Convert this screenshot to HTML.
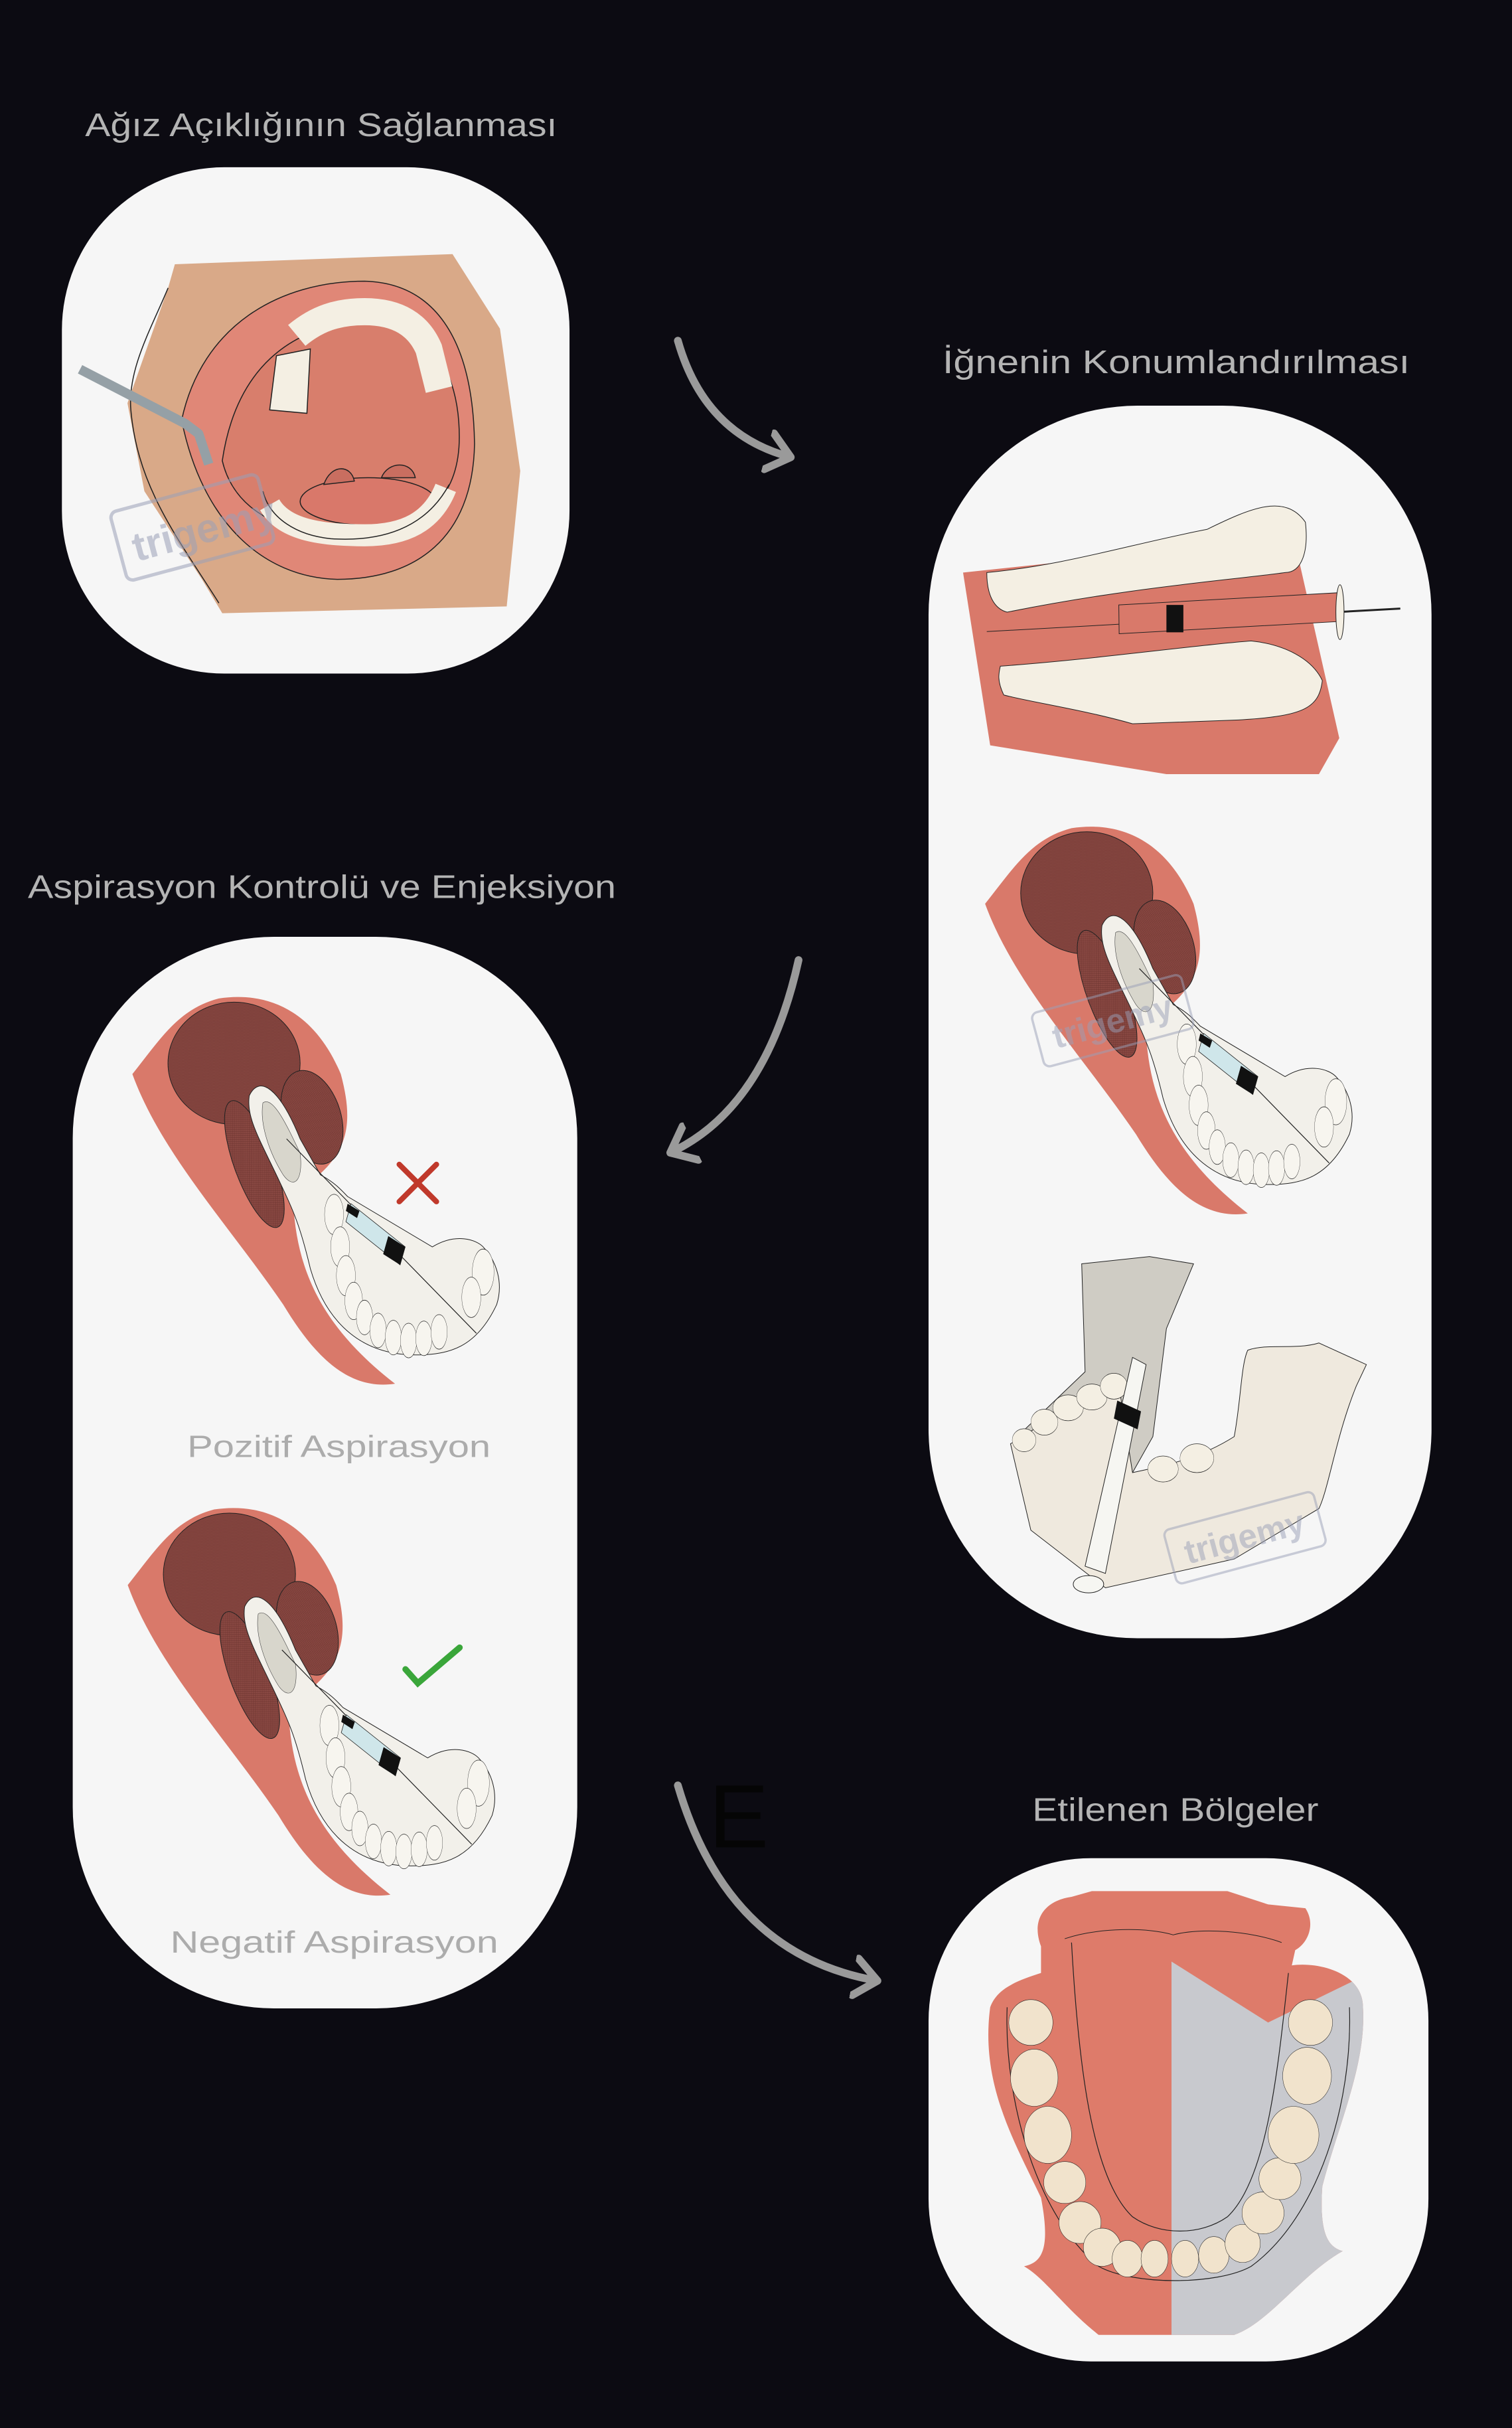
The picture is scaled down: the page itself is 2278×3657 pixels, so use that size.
<!DOCTYPE html>
<html><head><meta charset="utf-8"><style>
html,body{margin:0;padding:0;background:#0c0b12;}
svg{display:block}
</style></head><body>
<svg width="2278" height="3657" viewBox="0 0 977 1568" preserveAspectRatio="none" xmlns="http://www.w3.org/2000/svg">
<defs>
<marker id="ah" markerWidth="6" markerHeight="6" refX="3" refY="3" orient="auto" markerUnits="strokeWidth">
<path d="M0.3,0.6 L3.2,3 L0.3,5.4" fill="none" stroke="#9a9a9a" stroke-width="1" stroke-linecap="round" stroke-linejoin="round"/>
</marker>
<pattern id="hatch" width="4" height="4" patternUnits="userSpaceOnUse">
<rect width="4" height="4" fill="#8d4b45"/><path d="M0,0L4,4M4,0L0,4" stroke="#6e3530" stroke-width="0.6"/>
</pattern>
<g id="asp">
 <path d="M165,610 C250,560 300,520 420,505 C560,495 700,520 780,610 C820,680 800,720 690,760 L640,790 C650,880 720,960 940,1040 C800,1050 700,1000 610,930 C450,820 250,720 165,610Z" fill="#d9796a"/>
 <ellipse cx="465" cy="595" rx="195" ry="85" fill="url(#hatch)" stroke="#222" stroke-width="1" vector-effect="non-scaling-stroke"/>
 <ellipse cx="695" cy="670" rx="95" ry="60" transform="rotate(20 695 670)" fill="url(#hatch)" stroke="#222" stroke-width="1" vector-effect="non-scaling-stroke"/>
 <ellipse cx="525" cy="735" rx="115" ry="48" transform="rotate(45 525 735)" fill="url(#hatch)" stroke="#222" stroke-width="1" vector-effect="non-scaling-stroke"/>
 <path d="M510,640 C540,610 600,630 660,700 L720,750 C760,760 780,770 800,780 L1050,850 C1120,830 1180,840 1200,850 C1240,870 1260,900 1240,930 C1180,990 1100,1000 1000,1000 C850,1000 740,960 690,880 C660,820 640,800 600,760 C540,700 500,670 510,640Z" fill="#f2f0ea" stroke="#222" stroke-width="1" vector-effect="non-scaling-stroke"/>
 <path d="M550,650 C580,640 620,680 660,720 C670,760 640,770 610,750 C570,720 540,680 550,650Z" fill="#d8d6cc" stroke="#444" stroke-width="0.6" vector-effect="non-scaling-stroke"/>
 <g fill="#f7f5ef" stroke="#222" stroke-width="0.7" vector-effect="non-scaling-stroke">
  <circle cx="760" cy="805" r="28"/><circle cx="778" cy="850" r="28"/><circle cx="795" cy="890" r="28"/><circle cx="818" cy="925" r="26"/><circle cx="850" cy="948" r="24"/><circle cx="890" cy="966" r="24"/><circle cx="935" cy="976" r="24"/><circle cx="980" cy="980" r="24"/><circle cx="1025" cy="977" r="24"/><circle cx="1070" cy="968" r="24"/><circle cx="1200" cy="885" r="32"/><circle cx="1165" cy="920" r="28"/>
 </g>
 <line x1="620" y1="700" x2="1180" y2="970" stroke="#222" stroke-width="1.2" vector-effect="non-scaling-stroke"/>
 <path d="M810,790 L970,850 L955,875 L795,815Z" fill="#cfe6ea" stroke="#222" stroke-width="0.8" vector-effect="non-scaling-stroke"/>
 <path d="M920,835 L970,850 L955,875 L905,860Z" fill="#111"/>
 <path d="M800,790 L835,800 L828,810 L795,800Z" fill="#111"/>
</g>
</defs>

<!-- Titles -->
<g font-family="Liberation Sans, sans-serif" fill="#b4b4b4" font-size="21">
<text x="55" y="88" textLength="305" lengthAdjust="spacingAndGlyphs">Ağız Açıklığının Sağlanması</text>
<text x="609" y="241" textLength="302" lengthAdjust="spacingAndGlyphs">İğnenin Konumlandırılması</text>
<text x="18" y="580" textLength="380" lengthAdjust="spacingAndGlyphs">Aspirasyon Kontrolü ve Enjeksiyon</text>
<text x="667" y="1176" textLength="185" lengthAdjust="spacingAndGlyphs">Etilenen Bölgeler</text>
</g>
<text x="458" y="1193" font-family="Liberation Sans, sans-serif" font-size="58" fill="#050505">E</text>

<!-- Arrows -->
<g fill="none" stroke="#9a9a9a" stroke-width="5" stroke-linecap="round" marker-end="url(#ah)">
<path d="M438,220 Q455,280 510,295"/>
<path d="M516,620 Q495,715 434,744"/>
<path d="M438,1153 Q470,1262 566,1279"/>
</g>

<!-- Cards -->
<g fill="#f6f6f6">
<rect x="40" y="108" width="328" height="327" rx="105"/>
<rect x="600" y="262" width="325" height="796" rx="135"/>
<rect x="47" y="605" width="326" height="692" rx="130"/>
<rect x="600" y="1200" width="323" height="325" rx="105"/>
</g>

<!-- Card1 illustration -->
<g transform="translate(38.6,107.2) scale(0.2188)" stroke="#222" stroke-width="3">
 <path d="M320,360 L340,290 L1160,260 L1300,480 L1360,900 L1320,1300 L480,1320 L420,1220 L250,960 L200,700Z" fill="#d9a988" stroke="none"/>
 <path d="M320,360 C270,480 200,600 210,720 C230,950 350,1100 470,1290" fill="none"/>
 <path d="M360,750 C420,470 650,340 900,340 C1100,345 1220,500 1225,820 C1220,1100 1050,1220 820,1220 C600,1215 420,1050 360,750Z" fill="#e08777"/>
 <path d="M480,870 C520,600 680,470 900,460 C1090,460 1180,600 1180,800 C1180,960 1100,1060 900,1090 C700,1100 520,1040 480,870Z" fill="#d87e6c"/>
 <path d="M700,500 C760,450 820,430 900,430 C1000,430 1060,470 1090,540 L1120,660" fill="none" stroke="#f4efe3" stroke-width="80"/>
 <path d="M640,560 L740,540 L730,730 L620,720Z" fill="#f4efe3"/>
 <ellipse cx="910" cy="990" rx="200" ry="70" fill="#d9786a"/>
 <path d="M780,940 C800,880 860,880 870,930Z M950,920 C970,870 1040,870 1050,920Z" fill="#c96e60"/>
 <path d="M620,1000 C660,1070 760,1090 900,1090 C1020,1090 1100,1050 1140,950" fill="none" stroke="#f4efe3" stroke-width="65"/>
 <path d="M600,960 C620,1040 700,1090 800,1100 C950,1110 1080,1070 1150,940" fill="none"/>
 <polyline points="60,600 370,760 410,790 440,880" fill="none" stroke="#95a0a6" stroke-width="28" stroke-linejoin="round"/>
 <g transform="rotate(-15 400 1080)" opacity="0.55"><rect x="170" y="960" width="450" height="210" rx="20" fill="none" stroke="#9aa0b8" stroke-width="10"/>
 <text x="210" y="1120" font-family="Liberation Sans, sans-serif" font-weight="bold" font-size="120" fill="#9aa0b8" stroke="none">trigemy</text></g>
</g>

<!-- Card2 illustrations -->
<g transform="translate(600.4,300) scale(0.219,0.465)">
 <!-- top -->
 <path d="M100,150 L700,120 L1080,110 L1210,380 L1150,430 L700,430 L180,390Z" fill="#d9796a"/>
 <path d="M170,150 C400,140 600,110 820,90 C950,60 1050,40 1110,80 C1120,120 1100,150 1050,150 C900,160 600,170 230,205 C190,200 170,180 170,150Z" fill="#f4efe3" stroke="#222" stroke-width="1" vector-effect="non-scaling-stroke"/>
 <path d="M210,280 C500,270 800,250 950,245 C1050,250 1130,270 1160,300 C1150,340 1100,350 900,355 L600,360 C450,340 300,330 220,320 C200,300 205,290 210,280Z" fill="#f4efe3" stroke="#222" stroke-width="1" vector-effect="non-scaling-stroke"/>
 <line x1="170" y1="232" x2="1390" y2="200" stroke="#222" stroke-width="1" vector-effect="non-scaling-stroke"/>
 <rect x="560" y="195" width="650" height="40" fill="#d9796a" stroke="#222" stroke-width="1" vector-effect="non-scaling-stroke" transform="rotate(-1.5 560 215)"/>
 <rect x="700" y="195" width="50" height="38" fill="#111"/>
 <line x1="1200" y1="205" x2="1390" y2="200" stroke="#222" stroke-width="3" vector-effect="non-scaling-stroke"/>
 <ellipse cx="1212" cy="205" rx="12" ry="38" fill="#f4efe3" stroke="#222" stroke-width="1" vector-effect="non-scaling-stroke"/>
 <!-- middle -->
 <use href="#asp"/>
 <!-- bottom -->
 <path d="M450,1110 L650,1100 L780,1110 L700,1200 L660,1350 L600,1400 L300,1400 L260,1350 L460,1260Z" fill="#cfccc4" stroke="#222" stroke-width="1" vector-effect="non-scaling-stroke"/>
 <path d="M240,1360 C350,1330 450,1290 560,1280 L600,1400 C700,1390 800,1380 900,1350 C920,1300 920,1250 940,1230 C1000,1220 1080,1230 1150,1220 L1290,1250 L1260,1280 C1200,1350 1180,1420 1150,1450 L900,1520 L520,1560 L300,1480Z" fill="#efe9de" stroke="#222" stroke-width="1" vector-effect="non-scaling-stroke"/>
 <g fill="#f4efe3" stroke="#222" stroke-width="0.7" vector-effect="non-scaling-stroke">
  <ellipse cx="280" cy="1355" rx="35" ry="16"/><ellipse cx="340" cy="1330" rx="40" ry="18"/><ellipse cx="410" cy="1310" rx="45" ry="18"/><ellipse cx="480" cy="1295" rx="45" ry="18"/><ellipse cx="545" cy="1280" rx="40" ry="18"/>
  <ellipse cx="690" cy="1395" rx="45" ry="18"/><ellipse cx="790" cy="1380" rx="50" ry="20"/>
 </g>
 <path d="M640,1250 L600,1240 L460,1530 L520,1540Z" fill="#f6f6f2" stroke="#222" stroke-width="1" vector-effect="non-scaling-stroke"/>
 <path d="M555,1300 L625,1315 L615,1340 L545,1325Z" fill="#111"/>
 <ellipse cx="470" cy="1555" rx="45" ry="12" fill="#f6f6f2" stroke="#222" stroke-width="1" vector-effect="non-scaling-stroke"/>
</g>
<g transform="rotate(-15 805 995)" opacity="0.5"><rect x="755" y="975" width="100" height="36" rx="4" fill="none" stroke="#9aa0b8" stroke-width="1.5"/>
<text x="765" y="1000" font-family="Liberation Sans, sans-serif" font-weight="bold" font-size="22" fill="#9aa0b8">trigemy</text></g>
<g transform="rotate(-15 660 470)" opacity="0.5"><rect x="618" y="650" width="100" height="36" rx="4" fill="none" stroke="#9aa0b8" stroke-width="1.5"/>
<text x="628" y="676" font-family="Liberation Sans, sans-serif" font-weight="bold" font-size="22" fill="#9aa0b8">trigemy</text></g>

<!-- Card3 illustrations -->
<g transform="translate(49.4,410) scale(0.219,0.465)"><use href="#asp"/></g>
<g transform="translate(46.4,740) scale(0.219,0.465)"><use href="#asp"/></g>
<path d="M258,752 L282,776 M282,752 L258,776" stroke="#c0392b" stroke-width="3.5" stroke-linecap="round"/>
<path d="M262,1078 L270,1087 L297,1064" fill="none" stroke="#3aa63a" stroke-width="4" stroke-linecap="round"/>
<g font-family="Liberation Sans, sans-serif" fill="#acacac" font-size="20">
<text x="121" y="941" textLength="196" lengthAdjust="spacingAndGlyphs">Pozitif Aspirasyon</text>
<text x="110" y="1261" textLength="212" lengthAdjust="spacingAndGlyphs">Negatif Aspirasyon</text>
</g>

<!-- Card4 illustration -->
<clipPath id="rclip"><path d="M715,530 L1000,690 L1300,560 L1300,1600 L715,1600Z"/></clipPath>
<g transform="translate(600.4,1136.4) scale(0.219,0.246)">
 <path d="M280,1330 C330,1320 360,1290 330,1150 C250,1000 150,850 180,650 C200,600 260,580 330,560 L330,490 C300,420 340,370 420,360 L480,345 L880,345 L1000,380 L1110,390 C1140,430 1120,480 1080,500 L1070,540 C1150,530 1280,560 1280,650 C1290,800 1210,950 1160,1120 C1150,1250 1180,1280 1220,1290 C1100,1350 1000,1480 900,1510 L500,1510 C400,1440 340,1360 280,1330Z" fill="#de7b6a"/>
 <path d="M280,1330 C330,1320 360,1290 330,1150 C250,1000 150,850 180,650 C200,600 260,580 330,560 L330,490 C300,420 340,370 420,360 L480,345 L880,345 L1000,380 L1110,390 C1140,430 1120,480 1080,500 L1070,540 C1150,530 1280,560 1280,650 C1290,800 1210,950 1160,1120 C1150,1250 1180,1280 1220,1290 C1100,1350 1000,1480 900,1510 L500,1510 C400,1440 340,1360 280,1330Z" fill="#c8c9ce" clip-path="url(#rclip)"/>
 <path d="M230,650 C220,900 320,1200 500,1330 C600,1380 850,1380 950,1330 C1150,1200 1250,900 1240,650" fill="none" stroke="#222" stroke-width="1.2" vector-effect="non-scaling-stroke"/>
 <path d="M420,480 C440,800 480,1100 600,1200 C680,1250 800,1250 880,1200 C1000,1100 1030,800 1060,560" fill="none" stroke="#222" stroke-width="1.2" vector-effect="non-scaling-stroke"/>
 <g fill="#f1e3cc" stroke="#222" stroke-width="1" vector-effect="non-scaling-stroke">
  <ellipse cx="300" cy="690" rx="65" ry="60"/><ellipse cx="310" cy="835" rx="70" ry="75"/><ellipse cx="350" cy="985" rx="70" ry="75"/><ellipse cx="400" cy="1110" rx="62" ry="55"/><ellipse cx="445" cy="1215" rx="62" ry="55"/><ellipse cx="510" cy="1280" rx="55" ry="50"/><ellipse cx="585" cy="1310" rx="45" ry="48"/><ellipse cx="665" cy="1310" rx="40" ry="48"/><ellipse cx="755" cy="1310" rx="40" ry="48"/><ellipse cx="840" cy="1300" rx="45" ry="48"/><ellipse cx="925" cy="1270" rx="52" ry="50"/><ellipse cx="985" cy="1190" rx="62" ry="55"/><ellipse cx="1035" cy="1100" rx="62" ry="55"/><ellipse cx="1075" cy="985" rx="75" ry="75"/><ellipse cx="1115" cy="830" rx="72" ry="75"/><ellipse cx="1125" cy="690" rx="65" ry="60"/>
 </g>
 <path d="M400,470 C500,440 650,440 720,460 C800,440 950,450 1040,480" fill="none" stroke="#222" stroke-width="1" vector-effect="non-scaling-stroke"/>
</g>
</svg>
</body></html>
